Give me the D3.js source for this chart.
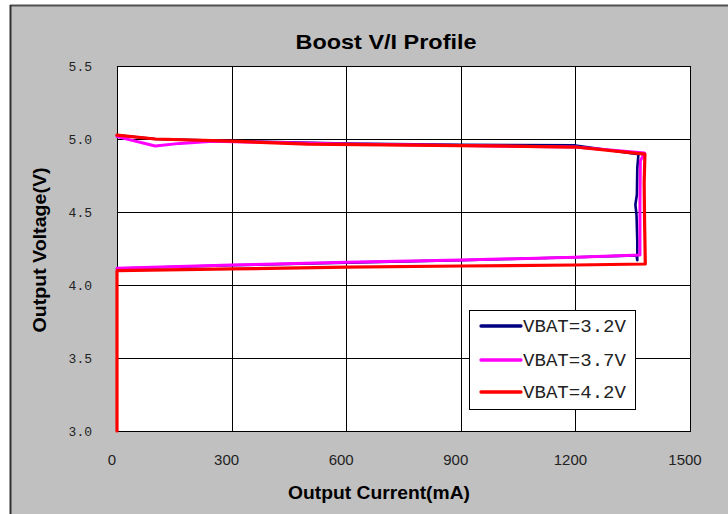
<!DOCTYPE html>
<html>
<head>
<meta charset="utf-8">
<script src="https://cdn.jsdelivr.net/npm/d3@7/dist/d3.min.js"></script>
<style>
  html, body { margin: 0; padding: 0; background: #ffffff; }
  svg { display: block; }
</style>
</head>
<body>
<svg id="chart" width="728" height="514"></svg>
<script>
// Boost converter output voltage vs. load current, three battery voltages

const xTicks = [0, 300, 600, 900, 1200, 1500];
const yTicks = [3.0, 3.5, 4.0, 4.5, 5.0, 5.5];
const yTickLabels = ["3.0", "3.5", "4.0", "4.5", "5.0", "5.5"];

const seriesNames = ["VBAT=3.2V", "VBAT=3.7V", "VBAT=4.2V"];
const seriesColors = ["#000080", "#ff00ff", "#ff0000"];

// VBAT = 3.2 V
const current32 = [0, 100, 300, 600, 900, 1200, 1365, 1362, 1361, 1357, 1360, 1362, 1362, 1360, 1200, 900, 600, 300, 0];
const voltage32 = [5.026, 5.0, 4.986, 4.968, 4.96, 4.956, 4.895, 4.80, 4.62, 4.55, 4.48, 4.30, 4.17, 4.203, 4.19, 4.17, 4.153, 4.135, 4.113];

// VBAT = 3.7 V
const current37 = [0, 100, 165, 250, 600, 900, 1200, 1381, 1370, 1369, 1369, 1200, 900, 600, 300, 0];
const voltage37 = [5.016, 4.952, 4.97, 4.985, 4.965, 4.955, 4.945, 4.905, 4.85, 4.55, 4.205, 4.19, 4.171, 4.155, 4.137, 4.115];

// VBAT = 4.2 V
const current42 = [0, 100, 300, 500, 900, 1200, 1382, 1380, 1381, 1383, 1200, 900, 600, 300, 0, 0];
const voltage42 = [5.027, 5.0, 4.985, 4.965, 4.955, 4.945, 4.897, 4.70, 4.45, 4.144, 4.137, 4.13, 4.122, 4.11, 4.099, 3.0];

const svg = d3.select("#chart");

// panel background
svg.append("rect").attr("x", 10).attr("y", 5).attr("width", 718).attr("height", 509).attr("fill", "#c0c0c0");
svg.append("line").attr("x1", 10).attr("x2", 728).attr("y1", 5.5).attr("y2", 5.5).attr("stroke", "#505050").attr("stroke-width", 2);
svg.append("line").attr("x1", 10.5).attr("x2", 10.5).attr("y1", 5).attr("y2", 514).attr("stroke", "#303030").attr("stroke-width", 2);

const plot = { left: 117, right: 690, top: 66, bottom: 431 };

const x = d3.scaleLinear().domain([0, 1500]).range([plot.left, plot.right]);
const y = d3.scaleLinear().domain([3.0, 5.5]).range([plot.bottom, plot.top]);

// plot area
svg.append("rect")
  .attr("x", plot.left).attr("y", plot.top)
  .attr("width", plot.right - plot.left).attr("height", plot.bottom - plot.top)
  .attr("fill", "#ffffff");

// gridlines
const grid = svg.append("g").attr("stroke", "#000").attr("stroke-width", 1);
grid.selectAll("line.v").data(xTicks).join("line")
  .attr("x1", d => Math.round(x(d)) + 0.5).attr("x2", d => Math.round(x(d)) + 0.5)
  .attr("y1", plot.top).attr("y2", plot.bottom);
grid.selectAll("line.h").data(yTicks).join("line")
  .attr("y1", d => Math.round(y(d)) + 0.5).attr("y2", d => Math.round(y(d)) + 0.5)
  .attr("x1", plot.left).attr("x2", plot.right);
svg.append("rect")
  .attr("x", plot.left + 0.5).attr("y", plot.top + 0.5)
  .attr("width", plot.right - plot.left).attr("height", plot.bottom - plot.top)
  .attr("fill", "none").attr("stroke", "#000").attr("stroke-width", 1);

// tick labels
svg.append("g").selectAll("text").data(xTicks).join("text")
  .attr("x", d => x(d) - 5).attr("y", 459)
  .attr("text-anchor", "middle").attr("dominant-baseline", "central")
  .attr("font-family", "'Liberation Sans Narrow', 'Arial Narrow', 'Liberation Sans', sans-serif")
  .attr("font-size", 15).attr("fill", "#222")
  .text(d => d);

svg.append("g").selectAll("text").data(yTicks).join("text")
  .attr("x", 92).attr("y", d => y(d) + 1)
  .attr("text-anchor", "end").attr("dominant-baseline", "central")
  .attr("font-family", "'Liberation Mono', 'DejaVu Sans Mono', monospace")
  .attr("font-size", 13).attr("fill", "#222")
  .text((d, i) => yTickLabels[i]);

// titles
svg.append("text")
  .attr("x", 386).attr("y", 49).attr("text-anchor", "middle")
  .attr("font-family", "'Liberation Sans', Arial, sans-serif").attr("font-weight", "bold")
  .attr("font-size", 21).attr("textLength", 181).attr("lengthAdjust", "spacingAndGlyphs")
  .text("Boost V/I Profile");

svg.append("text")
  .attr("x", 379).attr("y", 499).attr("text-anchor", "middle")
  .attr("font-family", "'Liberation Sans', Arial, sans-serif").attr("font-weight", "bold")
  .attr("font-size", 18).attr("textLength", 182).attr("lengthAdjust", "spacingAndGlyphs")
  .text("Output Current(mA)");

svg.append("text")
  .attr("transform", "translate(46,250) rotate(-90)").attr("text-anchor", "middle")
  .attr("font-family", "'Liberation Sans', Arial, sans-serif").attr("font-weight", "bold")
  .attr("font-size", 18).attr("textLength", 165).attr("lengthAdjust", "spacingAndGlyphs")
  .text("Output Voltage(V)");

// curves
const series = [
  { cur: current32, volt: voltage32, width: 2.6 },
  { cur: current37, volt: voltage37, width: 3 },
  { cur: current42, volt: voltage42, width: 3.2 }
];

const line = d3.line().x(d => x(d[0])).y(d => y(d[1]));

series.forEach((s, i) => {
  const pts = s.cur.map((c, k) => [c, s.volt[k]]);
  svg.append("path")
    .attr("d", line(pts))
    .attr("fill", "none")
    .attr("stroke", seriesColors[i])
    .attr("stroke-width", s.width)
    .attr("stroke-linejoin", "round")
    .attr("stroke-linecap", "round");
});

// legend
const legend = svg.append("g");
legend.append("rect")
  .attr("x", 469.5).attr("y", 310.5).attr("width", 166).attr("height", 99)
  .attr("fill", "#ffffff").attr("stroke", "#000").attr("stroke-width", 1);

const legendY = [326, 360, 392];
seriesNames.forEach((name, i) => {
  legend.append("line")
    .attr("x1", 481).attr("x2", 521)
    .attr("y1", legendY[i]).attr("y2", legendY[i])
    .attr("stroke", seriesColors[i]).attr("stroke-width", 3.3)
    .attr("stroke-linecap", "round");
  legend.append("text")
    .attr("x", 523).attr("y", legendY[i] + 1)
    .attr("dominant-baseline", "central")
    .attr("font-family", "'Liberation Mono', 'DejaVu Sans Mono', monospace")
    .attr("font-size", 18).attr("fill", "#222")
    .attr("textLength", 103).attr("lengthAdjust", "spacingAndGlyphs")
    .text(name);
});
</script>
</body>
</html>
